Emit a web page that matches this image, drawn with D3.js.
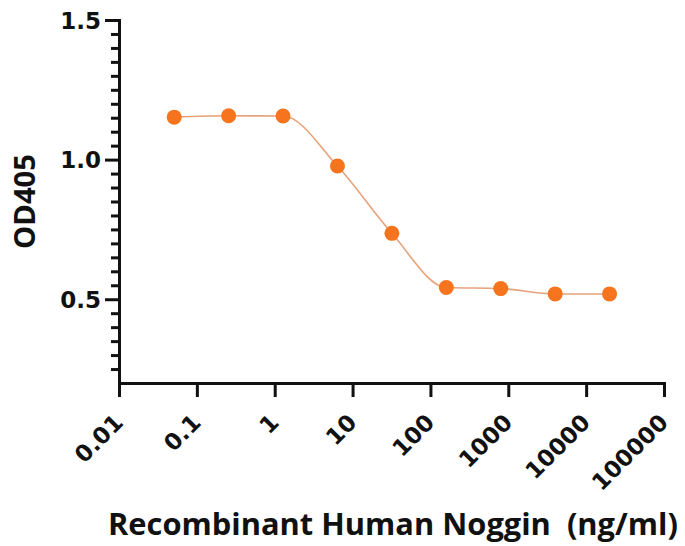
<!DOCTYPE html>
<html>
<head>
<meta charset="utf-8">
<script src="https://cdn.jsdelivr.net/npm/d3@7"></script>
<style>
  body { margin: 0; background: #fff; }
  svg { display: block; }
</style>
</head>
<body>
<div id="chart"></div>
<script>
// Recombinant Human Noggin dose-response (5-fold dilutions)
const concentrations = [0.0512, 0.256, 1.28, 6.4, 32, 160, 800, 4000, 20000];
const od405 = [1.152, 1.157, 1.156, 0.977, 0.736, 0.542, 0.538, 0.519, 0.519];

const xTicks = [0.01, 0.1, 1, 10, 100, 1000, 10000, 100000];
const xTickLabels = ["0.01", "0.1", "1", "10", "100", "1000", "10000", "100000"];
const yTicks = [0.5, 1.0, 1.5];
const yMinorTicks = [0.25, 0.3, 0.35, 0.4, 0.45, 0.55, 0.6, 0.65, 0.7, 0.75, 0.8, 0.85, 0.9, 0.95,
                     1.05, 1.1, 1.15, 1.2, 1.25, 1.3, 1.35, 1.4, 1.45];

const width = 685;
const height = 546;
const margin = { top: 20, right: 21, bottom: 163, left: 119 };

const dotColor = "#f7741f";
const lineColor = "#e6a27a";
const tickFont = "'DejaVu Sans', sans-serif";
const titleFont = "'Open Sans', 'Noto Sans', sans-serif";

const data = concentrations.map((c, i) => ({ x: c, y: od405[i] }));

const svg = d3.select("#chart")
    .append("svg")
    .attr("width", width)
    .attr("height", height);

const x = d3.scaleLog()
    .domain([0.01, 100000])
    .range([margin.left, width - margin.right]);

const y = d3.scaleLinear()
    .domain([0.2, 1.5])
    .range([height - margin.bottom, margin.top]);

// y axis: minor ticks first, then major ticks with labels
const yMinor = svg.append("g")
    .attr("transform", `translate(${margin.left},0)`)
    .call(d3.axisLeft(y).tickValues(yMinorTicks).tickSize(8).tickFormat(""));
yMinor.select(".domain").remove();

const yAxis = svg.append("g")
    .attr("transform", `translate(${margin.left},0)`)
    .call(d3.axisLeft(y).tickValues(yTicks).tickSize(14).tickSizeOuter(0).tickFormat(d3.format(".1f")));

yAxis.selectAll("text")
    .attr("x", -18)
    .attr("dy", "0.36em")
    .style("font-family", tickFont)
    .style("font-weight", "bold")
    .style("font-size", "23px")
    .attr("fill", "#111");

// x axis
const xAxis = svg.append("g")
    .attr("transform", `translate(0,${height - margin.bottom})`)
    .call(d3.axisBottom(x).tickValues(xTicks).tickSize(14).tickSizeOuter(0)
        .tickFormat((d, i) => xTickLabels[i]));

xAxis.selectAll("text")
    .attr("x", 0)
    .attr("y", 0)
    .attr("dy", 0)
    .attr("text-anchor", "end")
    .attr("transform", "translate(5,41) rotate(-45)")
    .style("font-family", tickFont)
    .style("font-weight", "bold")
    .style("font-size", "23px")
    .attr("fill", "#111");

svg.selectAll(".domain, .tick line")
    .attr("stroke", "#111")
    .attr("stroke-width", 3);
svg.selectAll(".domain").attr("stroke-linecap", "square");

// fitted curve
const line = d3.line()
    .x(d => x(d.x))
    .y(d => y(d.y))
    .curve(d3.curveMonotoneX);

svg.append("path")
    .datum(data)
    .attr("d", line)
    .attr("fill", "none")
    .attr("stroke", lineColor)
    .attr("stroke-width", 1.6);

svg.append("g")
    .selectAll("circle")
    .data(data)
    .enter().append("circle")
    .attr("cx", d => x(d.x))
    .attr("cy", d => y(d.y))
    .attr("r", 7.5)
    .attr("fill", dotColor);

// axis titles
const xTitle = svg.append("text")
    .attr("x", 108)
    .attr("y", 535)
    .attr("text-anchor", "start")
    .style("font-family", titleFont)
    .style("font-weight", "bold")
    .style("font-size", "26px")
    .style("white-space", "pre")
    .attr("fill", "#111")
    .text("Recombinant Human Noggin  (ng/ml)");

const yTitle = svg.append("text")
    .attr("transform", `translate(35,${(margin.top + height - margin.bottom) / 2}) rotate(-90)`)
    .attr("text-anchor", "middle")
    .style("font-family", titleFont)
    .style("font-weight", "bold")
    .style("font-size", "25px")
    .attr("fill", "#111")
    .text("OD405");

// fit title widths to the reference
function fitWidth(sel, target) {
    const w = sel.node().getComputedTextLength();
    const size = parseFloat(sel.style("font-size"));
    sel.style("font-size", (size * target / w).toFixed(2) + "px");
}
fitWidth(xTitle, 570);
fitWidth(yTitle, 95);
</script>
</body>
</html>
